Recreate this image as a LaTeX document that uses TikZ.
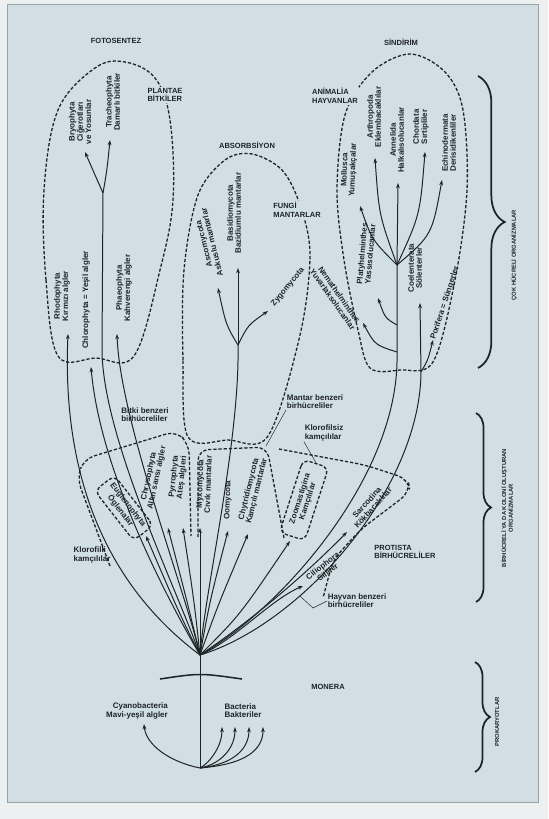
\documentclass[tikz,border=0pt]{standalone}
\usepackage{fontspec}
\setmainfont{Liberation Sans}
\usetikzlibrary{arrows.meta,decorations.pathreplacing}
\definecolor{pagebg}{HTML}{EDF0F1}
\definecolor{panelbg}{HTML}{D1DFE5}
\definecolor{ink}{HTML}{1E2326}
\definecolor{framegray}{HTML}{9AA3A8}
\newcommand{\lblfont}{\fontsize{6.8}{7}\selectfont\bfseries}
\newcommand{\headfont}{\fontsize{6.4}{7.2}\selectfont\bfseries}
\newcommand{\sidefont}{\fontsize{5}{5.8}\selectfont\bfseries}

\begin{document}
\begin{tikzpicture}[x=0.03cm, y=-0.03cm,
  lbl/.style={font=\lblfont, text=ink, align=center, inner sep=0.5pt},
  head/.style={font=\headfont, text=ink, align=left, inner sep=1pt, fill=panelbg},
  side/.style={font=\sidefont, text=ink, align=center, inner sep=0.5pt, rotate=90},
  tree/.style={draw=ink, line width=0.85pt},
  arr/.style={tree, -{Stealth[length=4.5pt,width=3.2pt]}},
  blob/.style={draw=ink, line width=1.1pt, dash pattern=on 2.8pt off 1.6pt},
  group/.style={blob, rounded corners=9pt},
  pocket/.style={blob, rounded corners=6pt, rectangle, align=center, font=\lblfont, text=ink, inner sep=2pt},
  lead/.style={draw=ink, line width=0.4pt},
  brc/.style={draw=ink, decorate, line width=1.5pt, decoration={brace, amplitude=#1}}
]
\useasboundingbox (0,0) rectangle (548,819);
\fill[pagebg] (0,0) rectangle (548,819);
\fill[panelbg] (7,4) rectangle (538,802);
\draw[framegray, line width=0.6pt] (7,4) rectangle (538,802);

\coordinate (root) at (200,768);
\coordinate (fan)  at (200,655);
\coordinate (barL) at (160,679);
\coordinate (barR) at (242,679);
\coordinate (cyaT) at (144,724);
\foreach \bx [count=\i] in {222,235,249,263} \coordinate (bac\i) at (\bx,727);

\coordinate (rhoT) at (68,334);
\coordinate (chlT) at (91,367);
\coordinate (phaT) at (117,334);
\coordinate (plaB) at (102,352);
\coordinate (plaF) at (103,193);
\coordinate (bryT) at (85,152);
\coordinate (traT) at (110,140);

\coordinate (funB) at (238,345);
\coordinate (ascT) at (218,288);
\coordinate (basT) at (238,268);
\coordinate (zygT) at (268,311);

\coordinate (aniB) at (397,362);
\coordinate (aniL) at (397,352);
\coordinate (aniM) at (397,325);
\coordinate (aniF) at (397,265);
\coordinate (molT) at (360,206);
\coordinate (artT) at (375,158);
\coordinate (annT) at (398,183);
\coordinate (chdT) at (425,152);
\coordinate (echT) at (442,180);
\coordinate (flatT) at (378,298);
\coordinate (nemT) at (363,323);
\coordinate (radB) at (421,372);
\coordinate (coeT) at (420,303);
\coordinate (porT) at (433,340);

\coordinate (eugT) at (146,536);
\coordinate (chrT) at (168,528);
\coordinate (pyrT) at (183,528);
\coordinate (myxT) at (200,528);
\coordinate (oomT) at (228,531);
\coordinate (chyT) at (248,534);
\coordinate (zooT) at (290,541);
\coordinate (sarT) at (347,532);
\coordinate (cilT) at (303,586);
\coordinate (mbbP) at (266,446);
\coordinate (hbbV) at (313,608);
\coordinate (hbbU) at (300,596);

\draw[blob] plot[smooth cycle, tension=0.6] coordinates {(58,356) (46,280) (44,190) (58,110) (95,68) (125,62) (155,78) (170,120) (173,200) (160,270) (134,356) (96,358)};
\draw[blob] plot[smooth cycle, tension=0.55] coordinates {(188,437) (183,360) (184,270) (198,195) (225,160) (252,154) (282,170) (300,205) (310,255) (300,335) (268,436) (228,440)};
\draw[blob] plot[smooth cycle, tension=0.55] coordinates {(370,368) (358,330) (344,260) (337,190) (345,115) (372,72) (410,54) (445,72) (463,110) (467,190) (455,280) (433,362) (400,370)};
\draw[group] (110,566) -- (77,478) -- (84,459) -- (176,431) -- (189,444) -- (191,536);
\draw[group] (198,537) -- (198,450) -- (267,447) -- (284,538);
\draw[group] (279,449) -- (365,465) -- (408,479) -- (410,492) -- (360,530) -- (333,560) -- (323,598);

\draw[tree] (root) -- (fan);
\draw[ink, line width=1.3pt] (barL) .. controls (200,673) .. (barR);
\draw[arr] (root) .. controls (170,762) and (146,745) .. (cyaT);
\foreach \i/\bx in {1/222,2/235,3/249,4/263}
  \draw[arr] (root) .. controls ({\bx-14},764) and (\bx,748) .. (bac\i);

\draw[arr] (fan) .. controls (140,610) and (60,520) .. (rhoT);
\draw[arr] (fan) .. controls (165,595) and (100,470) .. (chlT);
\draw[tree] (fan) .. controls (175,585) and (104,440) .. (plaB) -- (plaF);
\draw[arr] (fan) .. controls (185,590) and (120,420) .. (phaT);
\draw[arr] (plaF) .. controls (95,175) .. (bryT);
\draw[arr] (plaF) .. controls (107,170) .. (traT);

\draw[tree] (fan) .. controls (205,590) and (240,440) .. (funB);
\draw[arr] (funB) .. controls (226,325) .. (ascT);
\draw[arr] (funB) -- (basT);
\draw[arr] (funB) .. controls (248,325) .. (zygT);

\draw[tree] (fan) .. controls (280,610) and (395,480) .. (aniB) -- (aniF);
\draw[arr] (aniF) .. controls (372,240) .. (molT);
\draw[arr] (aniF) .. controls (379,215) .. (artT);
\draw[arr] (aniF) -- (annT);
\draw[arr] (aniF) .. controls (420,215) .. (chdT);
\draw[arr] (aniF) .. controls (432,235) .. (echT);
\draw[arr] (aniM) .. controls (385,318) .. (flatT);
\draw[arr] (aniL) .. controls (375,345) .. (nemT);
\draw[tree] (fan) .. controls (300,625) and (420,490) .. (radB);
\draw[arr] (radB) -- (coeT);
\draw[arr] (radB) .. controls (428,360) .. (porT);

\draw[arr] (fan) .. controls (180,615) .. (eugT);
\draw[arr] (fan) .. controls (188,605) .. (chrT);
\draw[arr] (fan) .. controls (194,600) .. (pyrT);
\draw[arr] (fan) -- (myxT);
\draw[arr] (fan) .. controls (210,600) .. (oomT);
\draw[arr] (fan) .. controls (218,605) .. (chyT);
\draw[arr] (fan) .. controls (240,615) .. (zooT);
\draw[arr] (fan) .. controls (245,625) and (300,580) .. (sarT);
\draw[arr] (fan) .. controls (235,640) and (270,600) .. (cilT);

\node[head] (foto) at (116,41) {FOTOSENTEZ};
\node[head] (plantae) at (165,95) {PLANTAE\\BİTKİLER};
\node[head] (absorb) at (247,145) {ABSORBSİYON};
\node[head] (fungi) at (297,210) {FUNGİ\\MANTARLAR};
\node[head] (sindirim) at (401,42) {SİNDİRİM};
\node[head] (animalia) at (335,96) {ANİMALİA\\HAYVANLAR};
\node[head] (monera) at (328,687) {MONERA};
\node[head] (prot) at (405,552) {PROTISTA\\BİRHÜCRELİLER};

\node[lbl, rotate=90] (rho) at (62,296) {Rhodophyta\\Kırmızı algler};
\node[lbl, rotate=90] (chl) at (86,300) {Chlorophyta = Yeşil algler};
\node[lbl, rotate=90] (pha) at (124,288) {Phaeophyta\\Kahverengi algler};
\node[lbl, rotate=90] (bry) at (80,122) {Bryophyta\\Ciğerotları\\ve Yosunlar};
\node[lbl, rotate=90] (tra) at (113,102) {Tracheophyta\\Damarlı bitkiler};

\node[lbl, rotate=104] (asc) at (208,243) {Ascomycota\\Askuslu mantarlar};
\node[lbl, rotate=90] (bas) at (234,213) {Basidiomycota\\Bazidiumlu mantarlar};
\node[lbl, rotate=50] (zyg) at (288,287) {Zygomycota};

\node[lbl, rotate=88] (mol) at (349,170) {Mollusca\\Yumuşakçalar};
\node[lbl, rotate=90] (art) at (374,117) {Arthropoda\\Eklembacaklılar};
\node[lbl, rotate=90] (ann) at (397,140) {Annelida\\Halkalısolucanlar};
\node[lbl, rotate=90] (chd) at (421,127) {Chordata\\Sırtipliler};
\node[lbl, rotate=90] (ech) at (449,143) {Echinodermata\\Derisidikenliler};
\node[lbl, rotate=85] (flat) at (366,254) {Platyhelminthes\\Yassısolucanlar};
\node[lbl, rotate=-55] (nem) at (336,297) {Nemathelminthes\\Yuvarlaksolucanlar};
\node[lbl, rotate=90] (coe) at (415,268) {Coelenterata\\Sölenterler};
\node[lbl, rotate=72] (por) at (445,303) {Porifera = Süngerler};

\node[pocket, rotate=-52, minimum width=1.9cm, minimum height=0.75cm] (eug) at (124,508) {Euglenophyta\\Öglenalar};
\node[lbl, rotate=78] (chr) at (153,477) {Chrysophyta\\Altın sarısı algler};
\node[lbl, rotate=84] (pyr) at (178,477) {Pyrrophyta\\Ateş algleri};
\node[lbl, rotate=88] (myx) at (204,484) {Myxomycota\\Cıvık mantarlar};
\node[lbl, rotate=88] (oom) at (228,500) {Oomycota};
\node[lbl, rotate=76] (chy) at (253,490) {Chytridiomycota\\Kamçılı mantarlar};
\node[pocket, rotate=72, minimum width=2.3cm, minimum height=0.8cm] (zoo) at (304,500) {Zoomastigina\\Kamçılılar};
\node[lbl, rotate=48] (sar) at (370,505) {Sarcodina\\Kökbacaklılar};
\node[lbl, rotate=38] (cil) at (325,569) {Ciliophora\\Silliler};

\node[lbl, align=left] (bbb) at (145,415) {Bitki benzeri\\birhücreliler};
\node[lbl, align=left] (mbb) at (315,402) {Mantar benzeri\\birhücreliler};
\node[lbl, align=left] (kfs) at (324,433) {Klorofilsiz\\kamçılılar};
\node[lbl, align=left] (kfl) at (92,555) {Klorofilli\\kamçılılar};
\node[lbl, align=left] (hbb) at (357,601) {Hayvan benzeri\\birhücreliler};
\draw[lead] (mbb.south west) -- (mbbP);
\draw[lead] (kfs.south west) -- (zoo.east);
\draw[lead] (hbb.west) -- (hbbV) -- (hbbU);

\node[lbl, align=right] (cyano) at (137,711) {Cyanobacteria\\Mavi-yeşil algler};
\node[lbl, align=left] (bact) at (243,711) {Bacteria\\Bakteriler};

\draw[brc=0.8cm] (478,76) -- (478,368);
\node[side] (cok) at (514,255) {ÇOK HÜCRELİ ORGANİZMALAR};
\draw[brc=0.45cm] (476,413) -- (476,602);
\node[side] (birh) at (507,508) {BİRHÜCRELİ YA DA KOLONİ OLUŞTURAN\\ORGANİZMALAR};
\draw[brc=0.45cm] (475,662) -- (475,772);
\node[side] (prok) at (497,722) {PROKARYOTLAR};
\end{tikzpicture}
\end{document}
